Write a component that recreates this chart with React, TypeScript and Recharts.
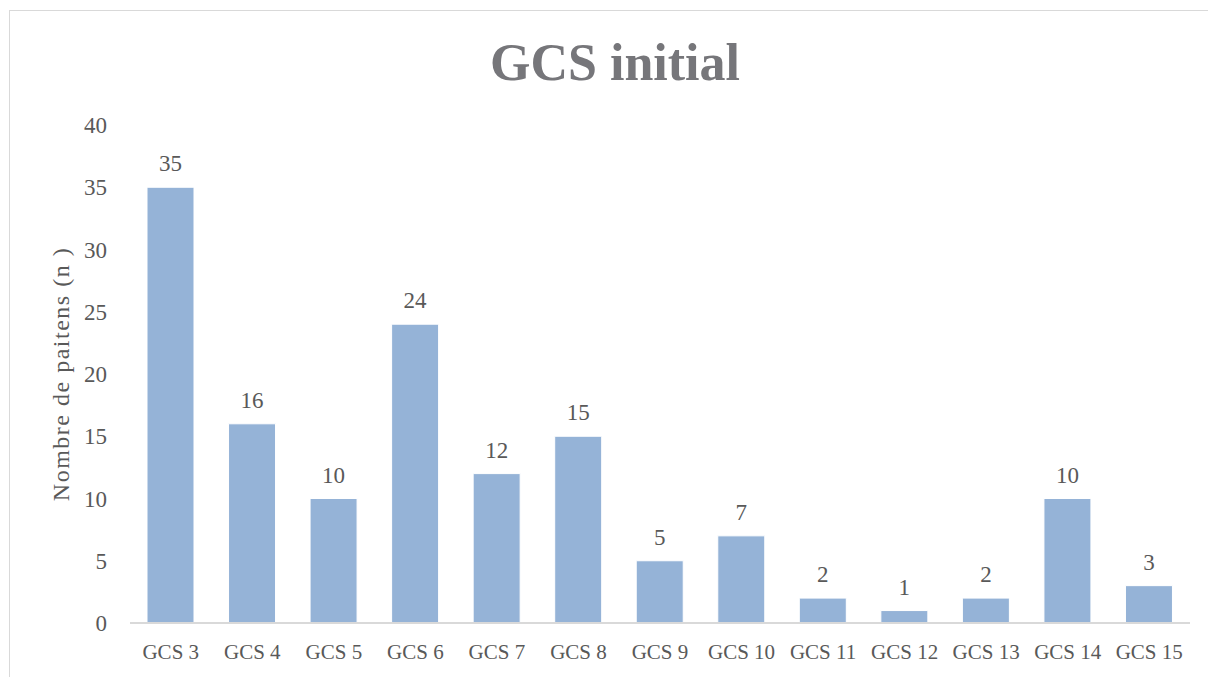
import { BarChart, Bar, XAxis, YAxis, LabelList } from 'recharts'

const categories = ['GCS 3', 'GCS 4', 'GCS 5', 'GCS 6', 'GCS 7', 'GCS 8', 'GCS 9', 'GCS 10', 'GCS 11', 'GCS 12', 'GCS 13', 'GCS 14', 'GCS 15']
const patients = [35, 16, 10, 24, 12, 15, 5, 7, 2, 1, 2, 10, 3]
const yTicks = [0, 5, 10, 15, 20, 25, 30, 35, 40]

const chartData = categories.map((name, i) => ({ name, value: patients[i] }))

const textColor = '#595959'
const barColor = '#95B3D7'
const axisColor = '#D9D9D9'
const font = '"Liberation Serif", serif'

export default function App() {
  return (
    <div style={{ position: 'fixed', left: 0, top: 0, width: 1208, height: 677, overflow: 'hidden', background: '#fff' }}>
      <div
        style={{
          position: 'absolute',
          left: 9,
          top: 10,
          width: 1220,
          height: 690,
          border: `1px solid ${axisColor}`,
          fontFamily: font,
        }}
      >
        <div
          style={{
            position: 'absolute',
            left: 0,
            width: 1210,
            top: 22,
            textAlign: 'center',
            fontSize: 52,
            fontWeight: 'bold',
            color: '#76767A',
            lineHeight: '60px',
          }}
        >
          GCS initial
        </div>
        <div style={{ position: 'absolute', left: 0, top: 0 }}>
          <BarChart width={1198} height={666} data={chartData} margin={{ top: 114, right: 18, left: 10, bottom: 24 }}>
            <XAxis
              dataKey="name"
              height={30}
              tick={{ fill: textColor, fontSize: 21, fontFamily: font }}
              tickLine={false}
              tickSize={0}
              tickMargin={21}
              axisLine={{ stroke: axisColor, strokeWidth: 2 }}
            />
            <YAxis
              width={110}
              domain={[0, 40]}
              ticks={yTicks}
              interval={0}
              tick={{ fill: textColor, fontSize: 23, fontFamily: font }}
              tickLine={false}
              tickSize={0}
              tickMargin={23}
              axisLine={false}
              label={{
                value: 'Nombre de paitens (n )',
                angle: -90,
                position: 'insideLeft',
                offset: 40,
                fontSize: 24,
                fontFamily: font,
                fill: textColor,
                style: { textAnchor: 'middle', fill: textColor, fontFamily: font, fontSize: 24, letterSpacing: 1.5 },
              }}
            />
            <Bar dataKey="value" fill={barColor} stroke="#fff" strokeWidth={1} barSize={47} isAnimationActive={false}>
              <LabelList dataKey="value" position="top" offset={16} fill={textColor} fontSize={23} fontFamily={font} />
            </Bar>
          </BarChart>
        </div>
      </div>
    </div>
  )
}
